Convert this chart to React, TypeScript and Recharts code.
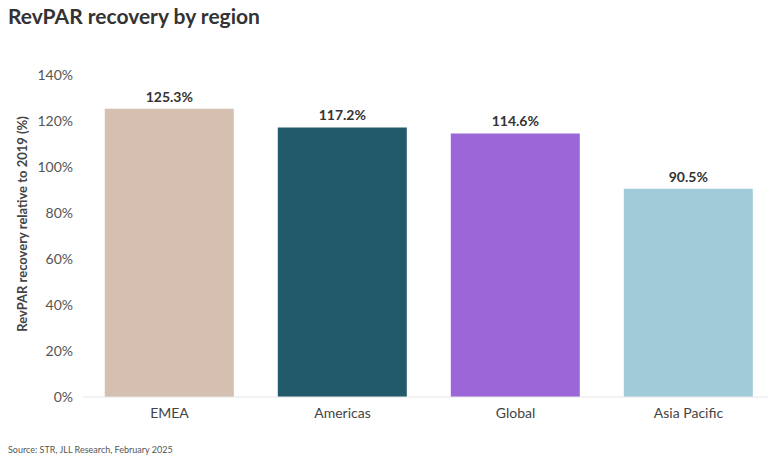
import { BarChart, Bar, XAxis, YAxis, Cell, LabelList } from 'recharts';

const regions = ['EMEA', 'Americas', 'Global', 'Asia Pacific'];
const recovery = [125.3, 117.2, 114.6, 90.5];
const barColors = ['#D5BFB0', '#22596B', '#9B66D8', '#A2CBD9'];
const yTicks = [0, 20, 40, 60, 80, 100, 120, 140];

const data = regions.map((region, i) => ({ region, recovery: recovery[i] }));

const font = 'Lato, "Noto Sans", sans-serif';

const App = () => {
  return (
    <div
      style={{
        position: 'absolute', left: 0, top: 0, width: 768, height: 464,
        overflow: 'hidden', background: '#fff', fontFamily: font,
      }}
    >
      <div style={{ position: 'absolute', left: 8, top: 3, fontSize: 21, fontWeight: 700, color: '#333' }}>
        RevPAR recovery by region
      </div>
      <BarChart
        width={775}
        height={464}
        data={data}
        margin={{ top: 75, right: 0, bottom: 37, left: 0 }}
        barCategoryGap="12.6%"
      >
        <XAxis
          dataKey="region"
          height={30}
          tickLine={false}
          axisLine={{ stroke: '#e6e6e6' }}
          tick={{ fontSize: 14, fill: '#444', fontFamily: font }}
          tickMargin={5}
        />
        <YAxis
          width={83}
          domain={[0, 140]}
          ticks={yTicks}
          tickFormatter={(v) => `${v}%`}
          axisLine={false}
          tickLine={false}
          tick={{ fontSize: 14, fill: '#555', fontFamily: font }}
          tickMargin={4}
          label={{
            value: 'RevPAR recovery relative to 2019 (%)',
            angle: -90,
            position: 'insideLeft',
            dx: 17,
            dy: -12,
            style: { textAnchor: 'middle', fontSize: 13, fontWeight: 700, fill: '#444', fontFamily: font },
          }}
        />
        <Bar dataKey="recovery" isAnimationActive={false}>
          {data.map((d, i) => (
            <Cell key={d.region} fill={barColors[i]} />
          ))}
          <LabelList
            dataKey="recovery"
            position="top"
            offset={7}
            formatter={(v: number) => `${v.toFixed(1)}%`}
            style={{ fontSize: 14, fontWeight: 700, fill: '#333', fontFamily: font }}
          />
        </Bar>
      </BarChart>
      <div style={{ position: 'absolute', left: 8, top: 444, fontSize: 9, color: '#555' }}>
        Source: STR, JLL Research, February 2025
      </div>
    </div>
  );
};

export default App;
